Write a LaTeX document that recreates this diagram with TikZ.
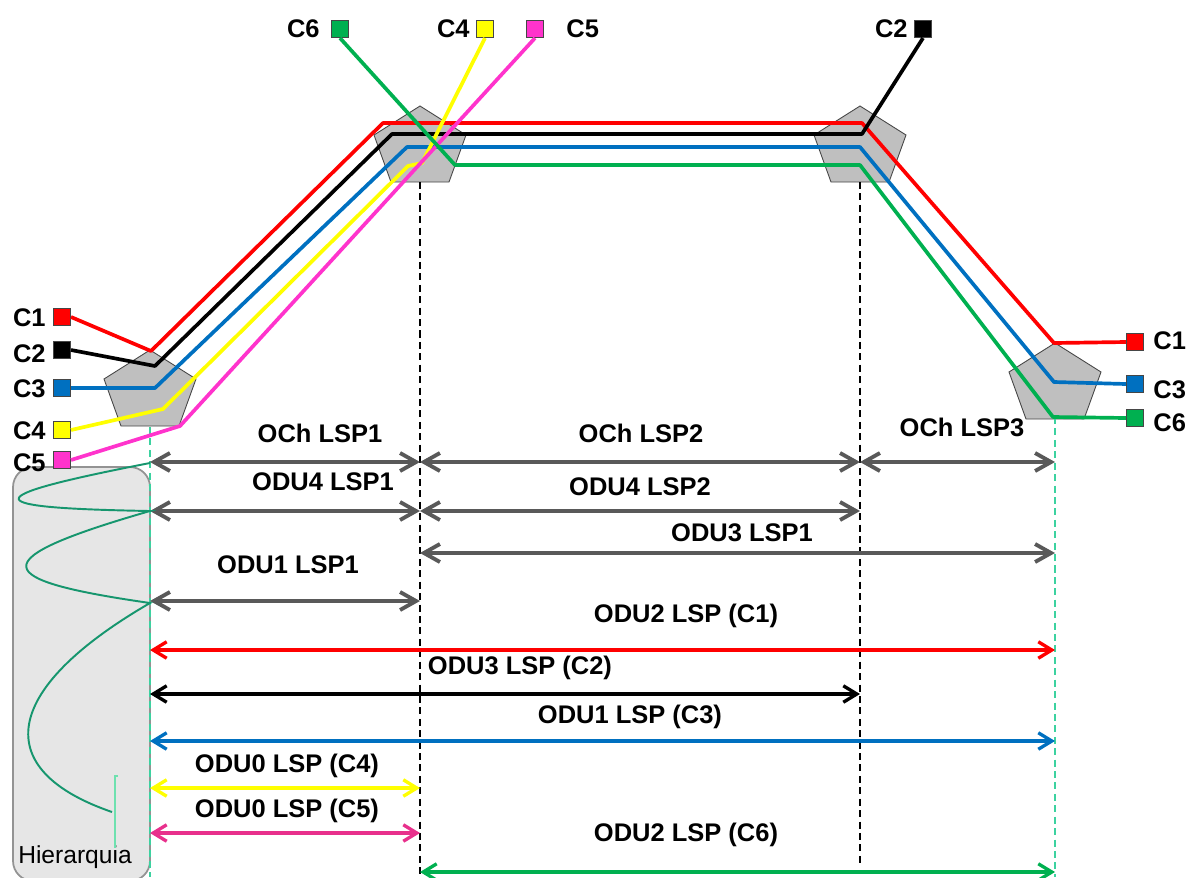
\documentclass[tikz,border=0pt]{standalone}
\usepackage{fontspec}
\setmainfont{Liberation Sans}
\usetikzlibrary{arrows.meta}
\definecolor{cred}{RGB}{255,0,0}
\definecolor{cblue}{RGB}{0,112,192}
\definecolor{cyellow}{RGB}{255,255,0}
\definecolor{cpink}{RGB}{255,51,204}
\definecolor{cmagenta}{RGB}{232,48,140}
\definecolor{cgreen}{RGB}{0,176,80}
\definecolor{lspgray}{RGB}{89,89,89}
\definecolor{roadmfill}{RGB}{191,191,191}
\definecolor{roadmedge}{RGB}{70,70,70}
\definecolor{spanteal}{RGB}{60,210,160}
\definecolor{hierfill}{RGB}{230,230,230}
\definecolor{hierline}{RGB}{22,150,110}
\definecolor{hiermark}{RGB}{110,225,175}
\tikzset{
  roadm/.style={fill=roadmfill, draw=roadmedge, line width=0.5pt},
  client/.style={draw=roadmedge, line width=0.6pt, minimum size=3.4mm, inner sep=0pt},
  cname/.style={font=\fontsize{14.5}{17}\bfseries\selectfont, inner sep=0pt},
  lbl/.style={font=\fontsize{14.5}{17}\bfseries\selectfont, inner sep=0pt},
  sig/.style={line width=2.1pt, line join=round},
  % gray LSPs are heavier than the client ones
  lsp/.style={{Straight Barb[length=2.7mm,width=3.3mm]}-{Straight Barb[length=2.7mm,width=3.3mm]}, line width=1.9pt},
  tlsp/.style={{Straight Barb[length=3.2mm,width=3.6mm]}-{Straight Barb[length=3.2mm,width=3.6mm]}, line width=2.2pt, lspgray},
  span/.style={dash pattern=on 4pt off 2.5pt, line width=0.6pt},
  hierbox/.style={fill=hierfill, draw=gray!85, line width=1pt, rounded corners=4mm,
    minimum width=2.74cm, minimum height=8.28cm, inner sep=0pt},
  pics/roadm/.style={code={
    \draw[roadm] (0,0) -- (46,29) -- (29,76) -- (-29,76) -- (-46,29) -- cycle;
  }}
}

\begin{document}
\begin{tikzpicture}[x=0.02cm, y=-0.02cm]
\useasboundingbox (0,0) rectangle (1187,877);

% hierarchy box
\node[hierbox] (hier) at (81.5,674) {};
\node[font=\fontsize{14}{16}\selectfont, inner sep=0pt] (hiertxt) at (75,857) {Hierarquia};

% nodes of the network
\pic at (150,350) {roadm};
\pic at (420,106) {roadm};
\pic at (860,106) {roadm};
\pic at (1055,343) {roadm};

% span borders
\coordinate (v1) at (150,427);
\coordinate (v2) at (420,182);
\coordinate (v3) at (860,182);
\coordinate (v4) at (1055,417);
\draw[span, spanteal] (v1) -- (v1 |- 0,877);
\draw[span] (v2) -- (v2 |- 0,877);
\draw[span] (v3) -- (v3 |- 0,866);
\draw[span, spanteal] (v4) -- (v4 |- 0,877);

% clients
\node[client, fill=cred] (c1l) at (62,317) {};
\node[client, fill=black] (c2l) at (62,350) {};
\node[client, fill=cblue] (c3l) at (62,388) {};
\node[client, fill=cyellow] (c4l) at (62,430) {};
\node[client, fill=cpink] (c5l) at (62,460) {};
\node[client, fill=cgreen] (c6t) at (340,29) {};
\node[client, fill=cyellow] (c4t) at (485,29) {};
\node[client, fill=cpink] (c5t) at (535,29) {};
\node[client, fill=black] (c2t) at (923,29) {};
\node[client, fill=cred] (c1r) at (1135,342) {};
\node[client, fill=cblue] (c3r) at (1135,384) {};
\node[client, fill=cgreen] (c6r) at (1135,418) {};

\node[cname, anchor=east] (c1lt) at (46,318) {C1};
\node[cname, anchor=east] (c2lt) at (46,354) {C2};
\node[cname, anchor=east] (c3lt) at (46,389) {C3};
\node[cname, anchor=east] (c4lt) at (46,431) {C4};
\node[cname, anchor=east] (c5lt) at (46,463) {C5};
\node[cname, anchor=east] (c6tt) at (320,29) {C6};
\node[cname, anchor=east] (c4tt) at (470,29) {C4};
\node[cname, anchor=west] (c5tt) at (566,29) {C5};
\node[cname, anchor=east] (c2tt) at (908,29) {C2};
\node[cname, anchor=west] (c1rt) at (1153,341) {C1};
\node[cname, anchor=west] (c3rt) at (1153,390) {C3};
\node[cname, anchor=west] (c6rt) at (1153,423) {C6};

% client signals
\draw[sig, cred] (c1l.east) -- (151,351) -- (383,123) -- (862,123) -- (1054,343) -- (c1r.west);
\draw[sig, black] (c2l.east) -- (155,366) -- (392,134) -- (862,134) -- (c2t.south);
\draw[sig, cblue] (c3l.east) -- (155,388) -- (407,147) -- (860,147) -- (1054,382) -- (c3r.west);
\draw[sig, cyellow] (c4l.east) -- (163,409) -- (408,166) -- (422,163) -- (c4t.south);
\draw[sig, cpink] (c5l.east) -- (180,426) -- (c5t.south);
\draw[sig, cgreen] (c6t.south) -- (455,165) -- (860,165) -- (1053,417) -- (c6r.west);

% LSPs
\draw[tlsp] (v1 |- 0,462) -- (v2 |- 0,462);
\draw[tlsp] (v2 |- 0,462) -- (v3 |- 0,462);
\draw[tlsp] (v3 |- 0,462) -- (v4 |- 0,462);
\draw[tlsp] (v1 |- 0,511) -- (v2 |- 0,511);
\draw[tlsp] (v2 |- 0,511) -- (v3 |- 0,511);
\draw[tlsp] (v2 |- 0,553) -- (v4 |- 0,553);
\draw[tlsp] (v1 |- 0,601) -- (v2 |- 0,601);
\draw[lsp, cred] (v1 |- 0,650) -- (v4 |- 0,650);
\draw[lsp, black] (v1 |- 0,694) -- (v3 |- 0,694);
\draw[lsp, cblue] (v1 |- 0,741) -- (v4 |- 0,741);
\draw[lsp, cyellow] (v1 |- 0,788) -- (v2 |- 0,788);
\draw[lsp, cmagenta] (v1 |- 0,833) -- (v2 |- 0,833);
\draw[lsp, cgreen] (v2 |- 0,872) -- (v4 |- 0,872);

\node[lbl] (och1) at (320,433) {OCh LSP1};
\node[lbl] (och2) at (641,433) {OCh LSP2};
\node[lbl] (och3) at (962,427) {OCh LSP3};
\node[lbl] (odu41) at (323,482) {ODU4 LSP1};
\node[lbl] (odu42) at (640,487) {ODU4 LSP2};
\node[lbl] (odu31) at (742,533) {ODU3 LSP1};
\node[lbl] (odu11) at (288,565) {ODU1 LSP1};
\node[lbl] (lspc1) at (686,616) {ODU2 LSP (C1)};
\node[lbl] (lspc2) at (520,668) {ODU3 LSP (C2)};
\node[lbl] (lspc3) at (630,717) {ODU1 LSP (C3)};
\node[lbl] (lspc4) at (287,766) {ODU0 LSP (C4)};
\node[lbl] (lspc5) at (287,811) {ODU0 LSP (C5)};
\node[lbl] (lspc6) at (686,835) {ODU2 LSP (C6)};

% hierarchy curve
\draw[hierline, line width=1.1pt] (v1 |- 0,463) .. controls (-30,498) and (-20,508) .. (v1 |- 0,511)
  .. controls (-20,560) and (-10,580) .. (v1 |- 0,603)
  .. controls (0,690) and (-10,770) .. (112,812);
\draw[hiermark, line width=0.9pt] (118,776) -- (115,776) -- (115,848);
\end{tikzpicture}
\end{document}
